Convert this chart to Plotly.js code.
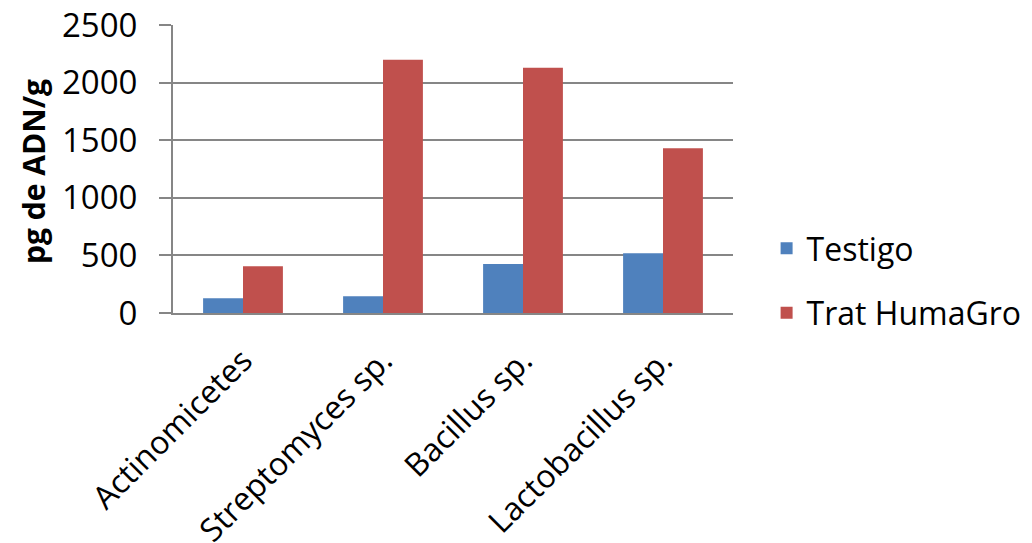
<!DOCTYPE html>
<html>
<head>
<meta charset="utf-8">
<script src="https://cdn.plot.ly/plotly-3.0.1.min.js"></script>
<style>
  html, body { margin: 0; padding: 0; background: #ffffff; }
  #chart { width: 1032px; height: 543px; }
</style>
</head>
<body>
<div id="chart"></div>
<script>
// Microbial DNA per gram of soil, control vs. HumaGro treatment
const categories = ['Actinomicetes', 'Streptomyces sp.', 'Bacillus sp.', 'Lactobacillus sp.'];
const testigo = [127, 145, 426, 519];
const tratHumaGro = [406, 2199, 2129, 1431];
const yTicks = [0, 500, 1000, 1500, 2000, 2500];
const yTitle = 'pg de ADN/g';

const FONT = '"Open Sans", "Liberation Sans", sans-serif';

const traces = [
  {
    type: 'bar', name: 'Testigo', x: categories, y: testigo,
    marker: { color: '#4F81BD' }, legendgroup: 'a'
  },
  {
    type: 'bar', name: 'Trat HumaGro', x: categories, y: tratHumaGro,
    marker: { color: '#C0504D' }, legendgroup: 'b'
  }
];

const layout = {
  width: 1032, height: 543,
  margin: { l: 173, r: 299, t: 25, b: 230, autoexpand: false },
  paper_bgcolor: '#ffffff', plot_bgcolor: '#ffffff',
  barmode: 'group', bargap: 0.43, bargroupgap: 0,
  font: { family: FONT, color: '#000000', size: 32 },
  showlegend: true,
  legend: {
    x: 1.06, y: 0.32, xanchor: 'left', yanchor: 'top',
    font: { family: FONT, size: 32, color: '#000000' },
    tracegroupgap: 20, itemwidth: 30
  },
  xaxis: {
    type: 'category',
    tickangle: -45,
    tickfont: { family: FONT, size: 32, color: '#000000' },
    ticklabelstandoff: 14,
    showline: true, linecolor: '#868686', linewidth: 2,
    ticks: '', showgrid: false, automargin: false
  },
  yaxis: {
    range: [0, 2500],
    tickvals: yTicks,
    ticktext: yTicks.map(String),
    tickfont: { family: FONT, size: 33, color: '#000000' },
    showline: true, linecolor: '#868686', linewidth: 2,
    ticks: 'outside', ticklen: 12, tickcolor: '#868686', tickwidth: 2,
    ticklabelstandoff: 15,
    showgrid: true, gridcolor: '#868686', gridwidth: 2,
    zeroline: false, automargin: false
  },
  annotations: [{
    text: '<b>' + yTitle + '</b>',
    xref: 'paper', yref: 'paper',
    x: (34 - 173) / 560, y: 0.49,
    xanchor: 'center', yanchor: 'middle',
    textangle: -90, showarrow: false,
    font: { family: FONT, size: 30, color: '#000000' }
  }]
};

Plotly.newPlot('chart', traces, layout, { displayModeBar: false, staticPlot: true });
</script>
</body>
</html>
